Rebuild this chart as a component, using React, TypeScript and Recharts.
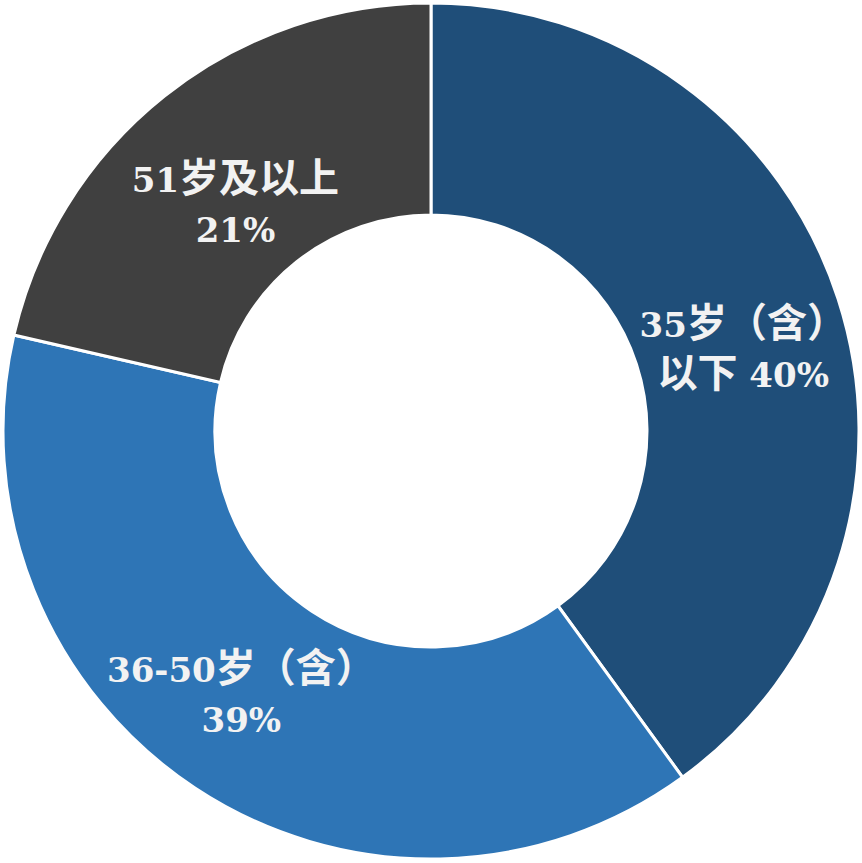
import { PieChart, Pie, Cell } from 'recharts';

const categories = ['35岁（含）以下', '36-50岁（含）', '51岁及以上'];
const shares = [40, 38.6, 21.4];
const labelLines = [
  ['35岁（含）', '以下 40%'],
  ['36-50岁（含）', '39%'],
  ['51岁及以上', '21%'],
];

const COLORS = ['#1F4E79', '#2E75B6', '#404040'];
// small nudges so labels sit where the original placed them
const NUDGE = [
  [6, 19],
  [-12, -5],
  [5, 26],
];

const RADIAN = Math.PI / 180;

// CJK runs are drawn a little larger than the latin digits, like the original
function runs(line: string) {
  return line
    .split(/([\u3000-\uffff]+)/)
    .filter((s) => s.length > 0)
    .map((s, i) => (
      <tspan key={i} fontSize={/[\u3000-\uffff]/.test(s) ? 40 : 34}>
        {s}
      </tspan>
    ));
}

function renderLabel(props: any) {
  const { cx, cy, midAngle, innerRadius, outerRadius, index } = props;
  const r = (innerRadius + outerRadius) / 2;
  const x = cx + r * Math.cos(-midAngle * RADIAN) + NUDGE[index][0];
  const y = cy + r * Math.sin(-midAngle * RADIAN) + NUDGE[index][1];
  const [l1, l2] = labelLines[index];
  return (
    <g>
      <text
        x={x}
        y={y - 13}
        textAnchor="middle"
        fill="#F2F2F2"
        fontFamily="'DejaVu Serif', 'Noto Sans CJK SC', serif"
        fontWeight={700}
      >
        {runs(l1)}
      </text>
      <text
        x={x}
        y={y + 37}
        textAnchor="middle"
        fill="#F2F2F2"
        fontFamily="'DejaVu Serif', 'Noto Sans CJK SC', serif"
        fontWeight={700}
      >
        {runs(l2)}
      </text>
    </g>
  );
}

export default function App() {
  const data = categories.map((name, i) => ({ name, value: shares[i] }));

  return (
    <div style={{ position: 'absolute', left: 0, top: 0, width: 862, height: 863, background: '#fff' }}>
      <PieChart width={862} height={863} margin={{ top: 0, right: 0, bottom: 0, left: 0 }}>
        <Pie
          data={data}
          dataKey="value"
          cx={431}
          cy={431}
          innerRadius={216}
          outerRadius={428}
          startAngle={90}
          endAngle={-270}
          stroke="#fff"
          strokeWidth={3}
          label={renderLabel}
          labelLine={false}
          isAnimationActive={false}
        >
          {data.map((entry, index) => (
            <Cell key={`cell-${index}`} fill={COLORS[index]} />
          ))}
        </Pie>
      </PieChart>
    </div>
  );
}
